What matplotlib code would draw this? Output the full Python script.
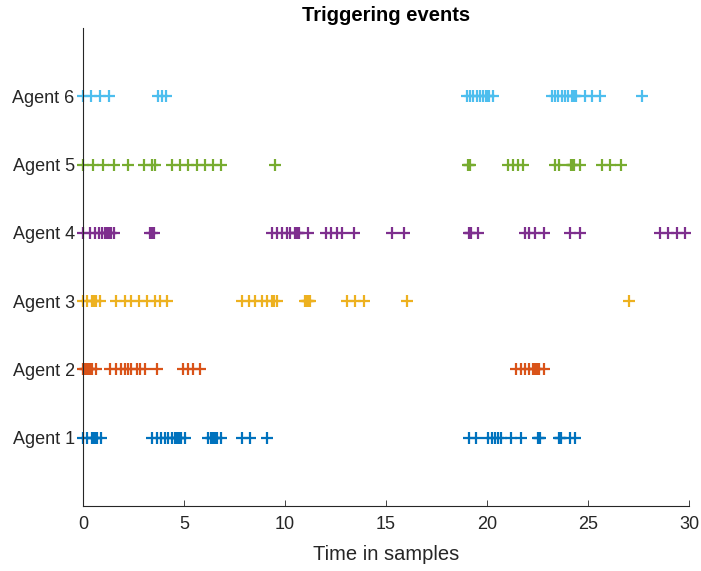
import matplotlib
matplotlib.use("Agg")
import matplotlib.pyplot as plt

plt.rcParams['font.family'] = ['Liberation Sans', 'DejaVu Sans']

agents = ["Agent 1", "Agent 2", "Agent 3", "Agent 4", "Agent 5", "Agent 6"]
colors = ["#0072BD", "#D95319", "#EDB120", "#7E2F8E", "#77AC30", "#4DBEEE"]

# triggering instants for each agent (in samples)
agent1 = [0.0, 0.2, 0.45, 0.5, 0.55, 0.6, 0.65, 0.7, 0.9,
          3.4, 3.65, 3.85, 4.05, 4.2, 4.4, 4.55, 4.6, 4.65, 4.7, 4.75, 4.8, 4.85, 5.05,
          6.2, 6.35, 6.4, 6.45, 6.5, 6.55, 6.6, 6.65, 6.85, 7.85, 8.25, 9.1,
          19.1, 19.45, 20.05, 20.25, 20.4, 20.55, 20.7, 21.2, 21.7, 22.5, 22.55, 22.6,
          23.55, 23.6, 23.65, 24.1, 24.35]
agent2 = [0.0, 0.1, 0.15, 0.2, 0.25, 0.3, 0.35, 0.4, 0.45, 0.65,
          1.35, 1.65, 1.9, 2.1, 2.25, 2.4, 2.65, 2.8, 3.05, 3.65,
          4.95, 5.2, 5.45, 5.8,
          21.45, 21.7, 21.9, 22.1, 22.3, 22.35, 22.4, 22.45, 22.5, 22.55, 22.8]
agent3 = [0.0, 0.2, 0.45, 0.5, 0.55, 0.6, 0.65, 0.85,
          1.65, 2.1, 2.4, 2.75, 3.15, 3.55, 3.8, 4.15,
          7.85, 8.2, 8.5, 8.85, 9.1, 9.35, 9.45, 9.6,
          11.0, 11.05, 11.1, 11.15, 11.2, 11.25, 13.05, 13.45, 13.9, 16.05, 27.05]
agent4 = [0.0, 0.35, 0.6, 0.8, 0.95, 1.1, 1.15, 1.2, 1.25, 1.3, 1.35, 1.4, 1.55,
          3.3, 3.4, 3.5, 9.35, 9.6, 9.85, 10.1, 10.25, 10.5, 10.55, 10.6, 10.65, 10.7, 11.15,
          12.05, 12.3, 12.55, 12.8, 13.4, 15.3, 15.9,
          19.1, 19.15, 19.2, 19.55, 21.9, 22.1, 22.4, 22.8, 24.1, 24.6,
          28.55, 28.95, 29.4, 29.8]
agent5 = [0.0, 0.5, 1.0, 1.55, 2.25, 3.0, 3.4, 3.55, 4.4, 4.8, 5.2, 5.65, 6.05, 6.45, 6.85, 9.5,
          19.05, 19.1, 19.15, 21.05, 21.3, 21.55, 21.8, 23.35, 23.55,
          24.15, 24.2, 24.25, 24.3, 24.6, 25.7, 26.1, 26.65]
agent6 = [0.0, 0.4, 0.85, 1.3, 3.7, 3.9, 4.1,
          19.0, 19.15, 19.3, 19.5, 19.65, 19.8, 19.95, 20.0, 20.05, 20.1, 20.3,
          23.2, 23.35, 23.5, 23.7, 23.85, 24.0, 24.2, 24.25, 24.3, 24.35, 24.4, 24.85, 25.2, 25.6,
          27.65]
events = [agent1, agent2, agent3, agent4, agent5, agent6]

fig = plt.figure(figsize=(7.01, 5.71), dpi=100)
ax = fig.add_axes([0.1184, 0.1138, 0.8645, 0.8372])

for i, (times, c) in enumerate(zip(events, colors)):
    ax.plot(times, [i + 1] * len(times), linestyle="none", marker="+",
            markersize=8, markeredgewidth=1.6, color=c, clip_on=False)

ax.set_xlim(0, 30)
ax.set_ylim(0, 7)
ax.set_xticks([0, 5, 10, 15, 20, 25, 30])
ax.set_yticks(range(1, 7))
ax.set_yticklabels(agents)
ax.tick_params(direction="in", length=4, width=0.6, colors="#262626")
ax.tick_params(axis="y", labelsize=13, pad=6)
ax.tick_params(axis="x", labelsize=13, pad=7)
for side in ("top", "right"):
    ax.spines[side].set_visible(False)
for side in ("left", "bottom"):
    ax.spines[side].set_color("#262626")
    ax.spines[side].set_linewidth(0.8)

ax.set_xlabel("Time in samples", fontsize=14.5, color="#262626", labelpad=9)
ax.set_title("Triggering events", fontsize=14.5, fontweight="bold", color="black", pad=5)

fig.savefig("out.png", dpi=100)
